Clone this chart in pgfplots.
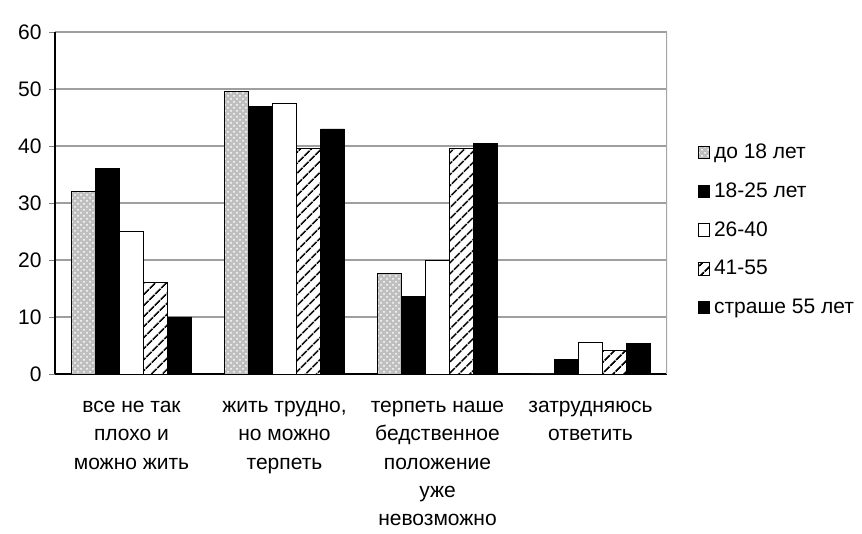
\documentclass[border=0pt]{standalone}
\usepackage{pgfplots}
\pgfplotsset{compat=1.18}
\usepackage{fontspec}
\setmainfont{Liberation Sans}
\usetikzlibrary{patterns,patterns.meta}
\begin{document}
\fontsize{10.5}{13.5}\selectfont
\begin{tikzpicture}
\useasboundingbox (-27.5pt,-80pt) rectangle (403.5pt,187pt);
\begin{axis}[
  at={(0,0)}, anchor=south west,
  scale only axis,
  width=306pt, height=171pt,
  ybar=0pt, bar width=12pt,
  xmin=-0.5, xmax=3.5,
  ymin=0, ymax=60,
  ytick={0,10,...,60},
  xtick={0,1,2,3},
  xticklabels={{все не так\\[0.6pt]плохо и\\[0.6pt]можно жить},{жить трудно,\\[0.6pt]но можно\\[0.6pt]терпеть},{терпеть наше\\[0.6pt]бедственное\\[0.6pt]положение\\[0.6pt]уже\\[0.6pt]невозможно},{затрудняюсь\\[0.6pt]ответить}},
  xticklabel style={align=center, font=\fontsize{10.5}{13.5}\selectfont, yshift=-7pt},
  x tick style={draw=none},
  yticklabel style={font=\fontsize{10.5}{12}\selectfont},
  /pgf/number format/assume math mode=true,
  axis x line*=bottom, axis y line*=left,
  axis line style={black, line width=0.9pt},
  ymajorgrids, grid style={gray!75, line width=0.6pt},
  tick align=outside, major tick length=3pt,
  legend style={at={(1.04,0.42)}, anchor=west, draw=none, fill=none,
    font=\fontsize{10.5}{12}\selectfont, row sep=6.5pt},
  legend image code/.code={\draw[#1, draw=black] (0cm,-0.1cm) rectangle (0.2cm,0.12cm);},
  legend cell align=left,
]
\addplot[draw=black, fill=gray!50, postaction={pattern=crosshatch dots, pattern color=white}] coordinates {(0,32) (1,49.5) (2,17.6) (3,0)};
\addplot[draw=black, fill=black] coordinates {(0,36) (1,47) (2,13.6) (3,2.6)};
\addplot[draw=black, fill=white] coordinates {(0,25) (1,47.5) (2,20) (3,5.6)};
\addplot[draw=black, fill=white, postaction={pattern={Lines[angle=45, distance=4pt, line width=0.9pt]}}] coordinates {(0,16) (1,39.6) (2,39.6) (3,4.2)};
\addplot[draw=black, fill=black] coordinates {(0,10) (1,43) (2,40.5) (3,5.4)};
\legend{до 18 лет, 18-25 лет, 26-40, 41-55, страше 55 лет}
\draw[gray!70, line width=0.6pt] (rel axis cs:1,0) -- (rel axis cs:1,1);
\end{axis}
\end{tikzpicture}
\end{document}
